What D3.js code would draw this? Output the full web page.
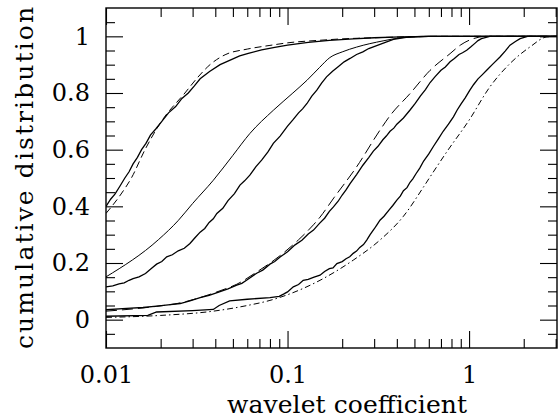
<!DOCTYPE html>
<html>
<head>
<meta charset="utf-8">
<script src="https://cdn.jsdelivr.net/npm/d3@7"></script>
<style>
body { margin: 0; background: #fff; }
</style>
</head>
<body>
<div id="container"></div>
<script>
// axis ranges and ticks
const xDomain = [0.01, 3.05];
const yDomain = [-0.1, 1.1];
const xMajorTicks = [0.01, 0.1, 1];
const xTickLabels = ["0.01", "0.1", "1"];
const xMinorTicks = [0.02, 0.03, 0.04, 0.05, 0.06, 0.07, 0.08, 0.09,
                     0.2, 0.3, 0.4, 0.5, 0.6, 0.7, 0.8, 0.9, 2, 3];
const yMajorTicks = [0, 0.2, 0.4, 0.6, 0.8, 1];
const yTickLabels = ["0", "0.2", "0.4", "0.6", "0.8", "1"];
const yMinorTicks = [-0.05, 0.05, 0.1, 0.15, 0.25, 0.3, 0.35, 0.45, 0.5, 0.55,
                     0.65, 0.7, 0.75, 0.85, 0.9, 0.95, 1.05];
const xTitle = "wavelet coefficient";
const yTitle = "cumulative distribution";

// [wavelet coefficient, cumulative fraction]
const curveA = [[0.01,0.40],[0.0106,0.425],[0.0112,0.443],[0.0119,0.47],[0.0127,0.50],[0.0134,0.522],
  [0.0141,0.55],[0.0149,0.573],[0.0157,0.60],[0.0166,0.622],[0.0176,0.652],[0.0188,0.673],[0.0203,0.70],
  [0.0221,0.73],[0.0242,0.752],[0.0262,0.781],[0.0284,0.80],[0.0306,0.824],[0.033,0.85],[0.0372,0.876],
  [0.0425,0.90],[0.049,0.918],[0.0545,0.931],[0.0608,0.94],[0.072,0.952],[0.085,0.961],[0.1,0.969],
  [0.13,0.979],[0.17,0.986],[0.23,0.991],[0.3,0.995],[0.42,0.998],[0.6,1],[3.05,1]];
const curveAModel = [[0.01,0.375],[0.012,0.44],[0.0138,0.50],[0.0164,0.60],[0.0202,0.70],[0.0272,0.80],
  [0.0325,0.86],[0.0374,0.90],[0.0453,0.935],[0.06,0.955],[0.08,0.968],[0.1,0.977],[0.15,0.986],
  [0.2,0.991],[0.3,0.995],[0.45,0.998],[0.7,1],[3.05,1]];
const curveB = [[0.01,0.151],[0.0195,0.283],[0.025,0.35],[0.03,0.41],[0.039,0.492],[0.05,0.58],
  [0.062,0.657],[0.0835,0.739],[0.107,0.80],[0.128,0.845],[0.15,0.89],[0.171,0.925],[0.2,0.945],
  [0.24,0.962],[0.336,0.984],[0.42,0.995],[0.55,1],[3.05,1]];
const curveC = [[0.01,0.116],[0.0109,0.119],[0.0118,0.126],[0.0126,0.13],[0.0134,0.139],[0.0141,0.145],
  [0.0152,0.151],[0.0165,0.163],[0.0177,0.18],[0.019,0.196],[0.0203,0.205],[0.0216,0.222],[0.0232,0.229],
  [0.025,0.243],[0.027,0.252],[0.029,0.269],[0.031,0.29],[0.033,0.309],[0.035,0.322],[0.037,0.343],
  [0.039,0.356],[0.0408,0.375],[0.044,0.393],[0.047,0.42],[0.051,0.445],[0.0547,0.475],[0.058,0.49],
  [0.062,0.51],[0.067,0.54],[0.072,0.563],[0.078,0.592],[0.0835,0.622],[0.091,0.648],[0.1,0.683],
  [0.107,0.705],[0.115,0.73],[0.121,0.744],[0.128,0.763],[0.136,0.789],[0.145,0.81],[0.154,0.835],
  [0.164,0.857],[0.177,0.877],[0.19,0.893],[0.205,0.91],[0.221,0.922],[0.24,0.936],[0.26,0.945],
  [0.28,0.957],[0.297,0.963],[0.34,0.977],[0.383,0.989],[0.45,0.996],[0.6,1],[3.05,1]];
const curveDModel = [[0.01,0.03],[0.019,0.047],[0.0256,0.059],[0.033,0.078],[0.0425,0.102],[0.0525,0.125],
  [0.0676,0.168],[0.091,0.226],[0.115,0.282],[0.139,0.335],[0.151,0.362],[0.18,0.43],[0.24,0.539],
  [0.323,0.669],[0.367,0.72],[0.473,0.798],[0.61,0.88],[0.786,0.939],[0.9,0.97],[1.057,0.992],
  [1.25,1],[3.05,1]];
const curveE = [[0.01,0.035],[0.013,0.04],[0.016,0.043],[0.019,0.048],[0.022,0.052],[0.0256,0.057],
  [0.029,0.066],[0.033,0.078],[0.037,0.086],[0.0425,0.099],[0.047,0.109],[0.0525,0.122],[0.056,0.128],
  [0.06,0.141],[0.0676,0.164],[0.073,0.175],[0.08,0.196],[0.085,0.205],[0.091,0.221],[0.1,0.24],
  [0.11,0.264],[0.12,0.28],[0.13,0.302],[0.139,0.316],[0.15,0.34],[0.16,0.358],[0.17,0.382],
  [0.179,0.398],[0.19,0.418],[0.2,0.44],[0.21,0.458],[0.221,0.48],[0.24,0.512],[0.26,0.545],
  [0.28,0.572],[0.297,0.595],[0.315,0.612],[0.335,0.635],[0.35,0.648],[0.367,0.665],[0.385,0.676],
  [0.4,0.69],[0.435,0.712],[0.473,0.74],[0.505,0.763],[0.54,0.79],[0.575,0.812],[0.61,0.837],
  [0.65,0.858],[0.7,0.88],[0.74,0.892],[0.786,0.91],[0.83,0.922],[0.88,0.936],[0.92,0.942],
  [0.97,0.951],[1.02,0.962],[1.08,0.976],[1.12,0.985],[1.17,0.992],[1.3,1],[3.05,1]];
const curveF = [[0.01,0.012],[0.017,0.015],[0.019,0.027],[0.03,0.032],[0.039,0.036],[0.042,0.05],
  [0.048,0.066],[0.06,0.072],[0.08,0.078],[0.09,0.082],[0.095,0.09],[0.1,0.098],[0.1076,0.116],
  [0.115,0.124],[0.122,0.139],[0.13,0.142],[0.14,0.15],[0.151,0.157],[0.16,0.17],[0.17,0.18],
  [0.178,0.183],[0.187,0.198],[0.2,0.205],[0.21,0.215],[0.22,0.222],[0.23,0.234],[0.24,0.242],
  [0.25,0.255],[0.262,0.265],[0.273,0.281],[0.285,0.3],[0.3,0.32],[0.31,0.334],[0.323,0.351],
  [0.34,0.365],[0.36,0.385],[0.38,0.403],[0.4,0.422],[0.418,0.436],[0.435,0.455],[0.455,0.466],
  [0.473,0.485],[0.49,0.497],[0.51,0.515],[0.535,0.535],[0.562,0.56],[0.6,0.585],[0.637,0.612],
  [0.68,0.64],[0.72,0.665],[0.77,0.69],[0.82,0.716],[0.86,0.74],[0.9,0.76],[0.95,0.782],[1.01,0.81],
  [1.06,0.83],[1.12,0.85],[1.18,0.864],[1.25,0.88],[1.35,0.902],[1.48,0.927],[1.58,0.948],
  [1.68,0.969],[1.8,0.982],[1.91,0.992],[2.1,1],[3.05,1]];
const curveGModel = [[0.01,0.008],[0.02,0.015],[0.039,0.03],[0.06,0.05],[0.08,0.068],[0.1,0.088],
  [0.151,0.139],[0.23,0.21],[0.323,0.281],[0.435,0.365],[0.562,0.469],[0.61,0.504],[0.753,0.592],
  [1.0,0.704],[1.3,0.821],[1.68,0.904],[2.17,0.963],[2.68,0.998],[3.05,1]];

const width = 560;
const height = 420;
const margin = {top: 8, right: 3, bottom: 72, left: 106};
const plotW = width - margin.left - margin.right;
const plotH = height - margin.top - margin.bottom;

const scaleX = d3.scaleLog().domain(xDomain).range([0, plotW]);
const scaleY = d3.scaleLinear().domain(yDomain).range([plotH, 0]);

const svg = d3.select("#container")
    .append("svg")
    .attr("width", width)
    .attr("height", height)
    .style("font-family", "'DejaVu Serif', serif");

const graph = svg.append("g")
    .attr("transform", "translate(" + margin.left + "," + margin.top + ")");

graph.append("clipPath").attr("id", "clip")
    .append("rect").attr("width", plotW).attr("height", plotH);

// ticks point inwards on all four sides, long for major, short for minor
function styleAxis(g, labelled){
    g.select(".domain").remove();
    g.selectAll(".tick line").attr("stroke", "#000").attr("stroke-width", 1.1);
    g.attr("font-family", null).attr("font-size", 24);
    if(!labelled) g.selectAll(".tick text").remove();
}
const major = 17, minor = 9;

graph.append("g")
    .attr("transform", "translate(0," + plotH + ")")
    .call(d3.axisBottom(scaleX).tickValues(xMajorTicks).tickSizeInner(-major).tickSizeOuter(0)
        .tickPadding(18).tickFormat((d, i) => xTickLabels[i]))
    .call(g => styleAxis(g, true));
graph.append("g")
    .attr("transform", "translate(0," + plotH + ")")
    .call(d3.axisBottom(scaleX).tickValues(xMinorTicks).tickSizeInner(-minor).tickSizeOuter(0))
    .call(g => styleAxis(g, false));
graph.append("g")
    .call(d3.axisTop(scaleX).tickValues(xMajorTicks).tickSizeInner(-major).tickSizeOuter(0))
    .call(g => styleAxis(g, false));
graph.append("g")
    .call(d3.axisTop(scaleX).tickValues(xMinorTicks).tickSizeInner(-minor).tickSizeOuter(0))
    .call(g => styleAxis(g, false));

graph.append("g")
    .call(d3.axisLeft(scaleY).tickValues(yMajorTicks).tickSizeInner(-major).tickSizeOuter(0)
        .tickPadding(16).tickFormat((d, i) => yTickLabels[i]))
    .call(g => styleAxis(g, true));
graph.append("g")
    .call(d3.axisLeft(scaleY).tickValues(yMinorTicks).tickSizeInner(-minor).tickSizeOuter(0))
    .call(g => styleAxis(g, false));
graph.append("g")
    .attr("transform", "translate(" + plotW + ",0)")
    .call(d3.axisRight(scaleY).tickValues(yMajorTicks).tickSizeInner(-major).tickSizeOuter(0))
    .call(g => styleAxis(g, false));
graph.append("g")
    .attr("transform", "translate(" + plotW + ",0)")
    .call(d3.axisRight(scaleY).tickValues(yMinorTicks).tickSizeInner(-minor).tickSizeOuter(0))
    .call(g => styleAxis(g, false));

// frame
graph.append("rect")
    .attr("width", plotW)
    .attr("height", plotH)
    .attr("fill", "none")
    .attr("stroke", "#000")
    .attr("stroke-width", 1.4);

const jagged = d3.line()
    .x(d => scaleX(d[0]))
    .y(d => scaleY(d[1]));
const smooth = d3.line()
    .curve(d3.curveMonotoneX)
    .x(d => scaleX(d[0]))
    .y(d => scaleY(d[1]));

const curves = [
    {data: curveAModel, line: smooth, dash: "7,4", w: 1},
    {data: curveA, line: jagged, dash: null, w: 1.3},
    {data: curveB, line: smooth, dash: null, w: 1},
    {data: curveC, line: jagged, dash: null, w: 1.3},
    {data: curveDModel, line: smooth, dash: "11,5", w: 1},
    {data: curveE, line: jagged, dash: null, w: 1.3},
    {data: curveGModel, line: smooth, dash: "6,3,1.5,3", w: 1},
    {data: curveF, line: jagged, dash: null, w: 1.3}
];

graph.append("g")
    .attr("clip-path", "url(#clip)")
    .selectAll("path")
    .data(curves)
    .join("path")
    .attr("fill", "none")
    .attr("stroke", "#000")
    .attr("stroke-width", d => d.w)
    .attr("stroke-dasharray", d => d.dash)
    .attr("d", d => d.line(d.data));

// axis titles
svg.append("text")
    .attr("x", 347)
    .attr("y", 413)
    .attr("text-anchor", "middle")
    .attr("font-size", 25)
    .attr("textLength", 240)
    .text(xTitle);

svg.append("text")
    .attr("transform", "translate(33," + (margin.top + plotH / 2) + ") rotate(-90)")
    .attr("text-anchor", "middle")
    .attr("font-size", 25)
    .attr("textLength", 342)
    .text(yTitle);
</script>
</body>
</html>
